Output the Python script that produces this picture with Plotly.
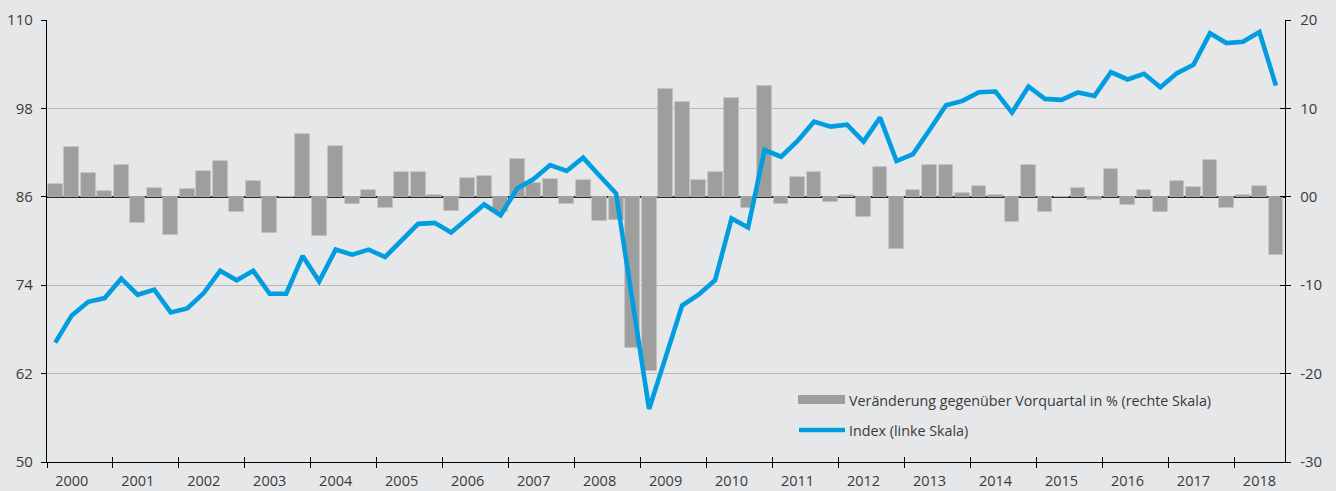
import plotly.graph_objects as go

# Quarterly data, 2000 Q1 – 2018 Q3
years = list(range(2000, 2019))

# Change vs. previous quarter in % (right scale)
change = [
    1.40, 5.59, 2.68, 0.68,      # 2000
    3.59, -2.95, 0.98, -4.27,    # 2001
    0.87, 2.95, 4.04, -1.70,     # 2002
    1.77, -4.15, 0.00, 7.06,     # 2003
    -4.42, 5.74, -0.79, 0.72,    # 2004
    -1.25, 2.83, 2.83, 0.19,     # 2005
    -1.59, 2.11, 2.38, -1.70,    # 2006
    4.31, 1.51, 2.00, -0.79,     # 2007
    1.89, -2.79, -2.64, -17.10,  # 2008
    -19.70, 12.24, 10.69, 1.89,  # 2009
    2.76, 11.14, -1.25, 12.54,   # 2010
    -0.87, 2.19, 2.76, -0.64,    # 2011
    0.19, -2.34, 3.36, -5.85,    # 2012
    0.79, 3.63, 3.55, 0.38,      # 2013
    1.21, 0.15, -2.83, 3.63,     # 2014
    -1.77, 0.00, 0.98, -0.34,    # 2015
    3.13, -0.98, 0.76, -1.74,    # 2016
    1.81, 1.10, 4.12, -1.25,     # 2017
    0.15, 1.21, -6.61,           # 2018
]

# Index level (left scale)
index = [
    66.2, 69.9, 71.75, 72.25,
    74.88, 72.7, 73.4, 70.3,
    70.85, 72.93, 75.97, 74.66,
    75.97, 72.84, 72.84, 77.97,
    74.52, 78.83, 78.15, 78.83,
    77.83, 80.1, 82.33, 82.46,
    81.15, 83.05, 84.96, 83.5,
    87.13, 88.4, 90.31, 89.5,
    91.31, 88.86, 86.45, 71.7,
    57.2, 64.2, 71.25, 72.7,
    74.66, 83.05, 81.83, 92.35,
    91.44, 93.58, 96.2, 95.53,
    95.8, 93.49, 96.75, 90.85,
    91.8, 95.07, 98.43, 99.02,
    100.2, 100.29, 97.43, 100.97,
    99.29, 99.16, 100.16, 99.7,
    102.92, 101.93, 102.7, 100.88,
    102.79, 103.92, 108.19, 106.87,
    107.05, 108.37, 101.1,
]

left_ticks = [50, 62, 74, 86, 98, 110]
right_ticks = [-30, -20, -10, 0, 10, 20]
right_labels = ["-30", "-20", "-10", "00", "10", "20"]

bar_name = "Veränderung gegenüber Vorquartal in % (rechte Skala)"
line_name = "Index (linke Skala)"

BG = "#e6e7e9"
BAR = "#9e9e9c"
BAR_EDGE = "#c4c4c4"
LINE = "#009ee0"
GRID = "#b8b8b8"
TEXT = "#3a3a3a"
FONT = "Open Sans"

q = list(range(len(change)))
x_range = [-0.5, 74.55]
year_bounds = [4 * i - 0.5 for i in range(len(years))]
year_mid = [4 * i + 1 for i in range(len(years))]

ML, MR, MT, MB = 47, 51, 20, 29
W, H = 1336, 491

fig = go.Figure()

fig.add_trace(go.Bar(
    x=q, y=change, width=0.9, name=bar_name,
    marker=dict(color=BAR, line=dict(color=BAR_EDGE, width=0.8)),
    xaxis="x", yaxis="y", showlegend=False, hoverinfo="skip",
))
fig.add_trace(go.Scatter(
    x=q, y=index, mode="lines", name=line_name,
    line=dict(color=LINE, width=4.6), xaxis="x", yaxis="y2",
    showlegend=False, hoverinfo="skip",
))
# helper traces so the overlay axes (crossing ticks, year labels) are drawn
for xa, ya in (("x2", "y"), ("x3", "y"), ("x", "y3")):
    fig.add_trace(go.Scatter(x=[None], y=[None], xaxis=xa, yaxis=ya,
                             showlegend=False, hoverinfo="skip"))

tick_common = dict(tickcolor="black", tickwidth=1.2, ticklen=5, automargin=False)

fig.update_layout(
    width=W, height=H,
    margin=dict(l=ML, r=MR, t=MT, b=MB),
    paper_bgcolor=BG, plot_bgcolor=BG,
    font=dict(family=FONT, size=15, color=TEXT),
    bargap=0,
    xaxis=dict(range=x_range, tickvals=year_bounds, ticks="outside",
               showticklabels=False, showline=True, linecolor="black",
               linewidth=1.3, showgrid=False, zeroline=False, **tick_common),
    xaxis2=dict(range=x_range, overlaying="x", anchor="y", tickvals=year_bounds,
                ticks="inside", showticklabels=False, showline=False,
                showgrid=False, zeroline=False, **tick_common),
    xaxis3=dict(range=x_range, overlaying="x", anchor="y", tickvals=year_mid,
                ticktext=[str(y) for y in years], ticks="", showline=False,
                showgrid=False, zeroline=False, ticklabelstandoff=8,
                automargin=False, tickfont=dict(size=14.5, color=TEXT)),
    yaxis=dict(range=[-30, 20], side="right", tickvals=right_ticks,
               ticktext=right_labels, ticks="outside", showline=True,
               linecolor="black", linewidth=1.3, showgrid=True,
               gridcolor=GRID, gridwidth=1.2, zeroline=True,
               zerolinecolor="#1a1a1a", zerolinewidth=1.6,
               ticklabelstandoff=6, tickfont=dict(size=15, color=TEXT),
               **tick_common),
    yaxis2=dict(range=[50, 110], overlaying="y", side="left", tickvals=left_ticks,
                ticks="outside", showline=True, linecolor="black",
                linewidth=1.3, showgrid=False, zeroline=False,
                ticklabelstandoff=5, tickfont=dict(size=15, color=TEXT),
                **tick_common),
    yaxis3=dict(range=[-30, 20], overlaying="y", side="right", tickvals=right_ticks,
                ticks="inside", showticklabels=False, showline=False,
                showgrid=False, zeroline=False, **tick_common),
)

# Legend drawn inside the plot area, bottom right
def px_x(p):
    return (p - ML) / (W - ML - MR)

def px_y(p):
    return 1 - (p - MT) / (H - MT - MB)

fig.add_shape(type="rect", xref="paper", yref="paper",
              x0=px_x(798), x1=px_x(845), y0=px_y(404), y1=px_y(395),
              fillcolor=BAR, line=dict(width=0))
fig.add_shape(type="line", xref="paper", yref="paper",
              x0=px_x(799), x1=px_x(845), y0=px_y(430), y1=px_y(430),
              line=dict(color=LINE, width=4.6))
fig.add_annotation(text=bar_name, xref="paper", yref="paper",
                   x=px_x(847), y=px_y(400), xanchor="left", yanchor="middle",
                   showarrow=False, font=dict(size=14.3, color=TEXT))
fig.add_annotation(text=line_name, xref="paper", yref="paper",
                   x=px_x(847), y=px_y(430), xanchor="left", yanchor="middle",
                   showarrow=False, font=dict(size=14.3, color=TEXT))

fig.write_html("out.html")
